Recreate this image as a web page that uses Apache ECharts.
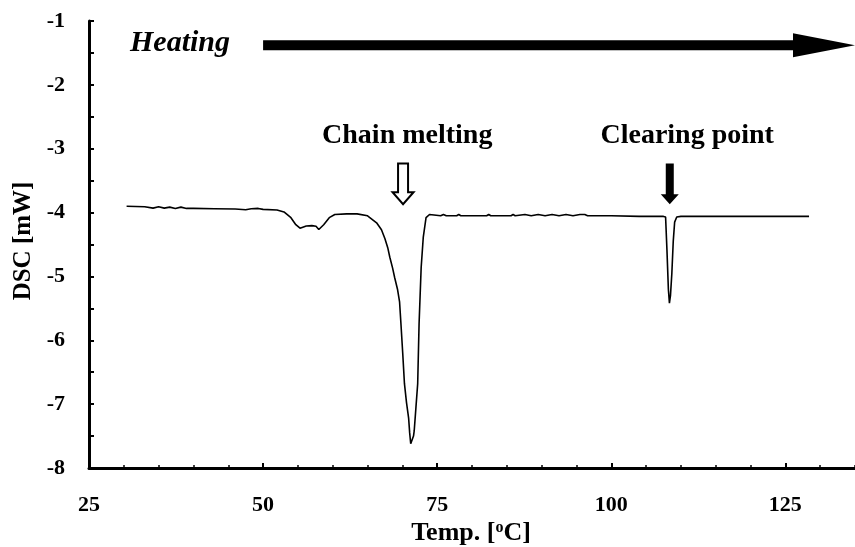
<!DOCTYPE html>
<html>
<head>
<meta charset="utf-8">
<script src="https://cdn.jsdelivr.net/npm/echarts@6/dist/echarts.min.js"></script>
<style>
  html, body { margin: 0; padding: 0; background: #fff; }
  #chart { width: 855px; height: 547px; }
</style>
</head>
<body>
<div id="chart"></div>
<script>
// DSC heating scan: temperature (°C) and heat flow (mW)
const temperature = [
  30.4, 33.0, 34.2, 35.0, 35.8, 36.6, 37.4, 38.2, 39.0, 40.0, 43.0, 46.0,
  47.5, 48.3, 49.3, 50.0, 52.0, 53.0, 54.0, 54.7, 55.3, 56.2, 57.0, 57.6,
  58.0, 58.7, 59.5, 60.3, 62.0, 63.5, 65.0, 66.3, 67.0, 67.5, 67.9, 68.2,
  68.6, 68.9, 69.3, 69.6, 69.8, 70.05, 70.3, 70.6, 70.9, 71.05, 71.2, 71.4,
  71.6, 71.7, 71.95, 72.2, 72.4, 72.55, 72.7, 73.0, 73.4, 73.9, 75.5, 75.9,
  76.3, 77.8, 78.1, 78.4, 82.1, 82.4, 82.7, 85.6, 85.9, 86.2, 87.6, 88.5,
  89.5, 90.5, 91.5, 92.5, 93.5, 94.5, 95.5, 96.2, 96.6, 100.0, 104.0, 107.5,
  107.8, 108.0, 108.2, 108.35, 108.5, 108.7, 108.9, 109.1, 109.4, 110.0, 115.0, 120.0,
  122.1, 122.3, 122.5, 125.0, 128.4
];
const dsc = [
  -3.90, -3.91, -3.93, -3.91, -3.93, -3.915, -3.935, -3.915, -3.935, -3.935, -3.94, -3.945,
  -3.955, -3.94, -3.935, -3.95, -3.96, -3.99, -4.08, -4.19, -4.245, -4.21, -4.205, -4.215,
  -4.265, -4.19, -4.08, -4.03, -4.02, -4.02, -4.05, -4.16, -4.27, -4.41, -4.55, -4.70,
  -4.87, -5.02, -5.20, -5.40, -5.75, -6.20, -6.68, -6.98, -7.22, -7.45, -7.62, -7.62,
  -7.50, -7.42, -7.05, -6.68, -5.74, -5.30, -4.86, -4.39, -4.08, -4.03, -4.05, -4.03,
  -4.05, -4.05, -4.03, -4.05, -4.05, -4.03, -4.05, -4.05, -4.03, -4.05, -4.03, -4.05,
  -4.03, -4.05, -4.03, -4.05, -4.03, -4.05, -4.03, -4.03, -4.05, -4.05, -4.06, -4.06,
  -4.07, -4.60, -5.20, -5.42, -5.30, -4.95, -4.45, -4.15, -4.07, -4.06, -4.06, -4.06,
  -4.06, -4.08, -4.06, -4.06, -4.06
];

// Axis ticks
const xTickLabels = [25, 50, 75, 100, 125];
const yTickLabels = [-8, -7, -6, -5, -4, -3, -2, -1];

const serif = '"Liberation Serif", "Times New Roman", Times, serif';
const labelStyle = { fontFamily: serif, fontWeight: 'bold', fontSize: 22, color: '#000' };

const xMin = xTickLabels[0];
const xStep = xTickLabels[1] - xTickLabels[0];
const yMin = yTickLabels[0];
const yMax = yTickLabels[yTickLabels.length - 1];

const chart = echarts.init(document.getElementById('chart'), null, { renderer: 'canvas' });

chart.setOption({
  animation: false,
  backgroundColor: '#fff',
  grid: { left: 89, top: 21, right: -8, bottom: 79, containLabel: false },
  xAxis: [
    {
      type: 'value', position: 'bottom', min: xMin, max: 135, interval: xStep,
      axisLine: { onZero: false, lineStyle: { color: '#000', width: 3 } },
      axisTick: { inside: true, length: 5, lineStyle: { color: '#000', width: 2 } },
      axisLabel: Object.assign({ margin: 26, showMaxLabel: false }, labelStyle),
      splitLine: { show: false }
    },
    {
      type: 'value', position: 'bottom', min: xMin, max: 135, interval: 5,
      axisLine: { show: false, onZero: false },
      axisTick: { inside: true, length: 3, lineStyle: { color: '#000', width: 1.5 } },
      axisLabel: { show: false },
      splitLine: { show: false }
    }
  ],
  yAxis: {
    type: 'value', min: yMin, max: yMax, interval: 1,
    axisLine: { onZero: false, lineStyle: { color: '#000', width: 3 } },
    axisTick: { inside: true, length: 5, lineStyle: { color: '#000', width: 2 } },
    minorTick: { show: true, splitNumber: 2, length: 5, lineStyle: { color: '#000', width: 2 } },
    axisLabel: Object.assign({ margin: 24 }, labelStyle),
    splitLine: { show: false }
  },
  series: [{
    type: 'line',
    xAxisIndex: 0,
    data: temperature.map((t, i) => [t, dsc[i]]),
    showSymbol: false,
    lineStyle: { color: '#000', width: 1.6 },
    z: 3
  }]
});

const px = (t, v) => chart.convertToPixel({ xAxisIndex: 0, yAxisIndex: 0 }, [t, v]);

// Heating direction arrow
const hStart = px(50, -1.38);
const hy = hStart[1];
const hx0 = hStart[0];
const hxEnd = chart.getWidth();
const hxHead = hxEnd - 62;

// Chain melting (hollow) arrow
const cm = px(70.1, -3.23);
const cmTip = px(70.1, -3.87);
// Clearing point (solid) arrow
const cp = px(108.4, -3.23);
const cpTip = px(108.4, -3.87);

function downArrow(cx, top, tip, shaftHalf, headHalf, headLen) {
  const hs = tip - headLen;
  return [
    [cx - shaftHalf, top], [cx + shaftHalf, top], [cx + shaftHalf, hs],
    [cx + headHalf, hs], [cx, tip], [cx - headHalf, hs], [cx - shaftHalf, hs]
  ];
}

const chainLabel = px(70.7, -2.8);
const clearLabel = px(110.9, -2.8);

chart.setOption({
  graphic: [
    {
      type: 'text', left: 130, top: hy - 17,
      style: { text: 'Heating', font: 'italic bold 30px ' + serif, fill: '#000' }
    },
    {
      type: 'polygon',
      shape: { points: [
        [hx0, hy - 5], [hxHead, hy - 5], [hxHead, hy - 12], [hxEnd, hy],
        [hxHead, hy + 12], [hxHead, hy + 5], [hx0, hy + 5]
      ] },
      style: { fill: '#000' }
    },
    {
      type: 'text', x: chainLabel[0], y: chainLabel[1],
      style: { text: 'Chain melting', font: 'bold 28px ' + serif, fill: '#000', align: 'center', verticalAlign: 'middle' }
    },
    {
      type: 'text', x: clearLabel[0], y: clearLabel[1],
      style: { text: 'Clearing point', font: 'bold 28px ' + serif, fill: '#000', align: 'center', verticalAlign: 'middle' }
    },
    {
      type: 'polygon',
      shape: { points: downArrow(cm[0], cm[1], cmTip[1], 5, 10.5, 12) },
      style: { fill: '#fff', stroke: '#000', lineWidth: 2 }
    },
    {
      type: 'polygon',
      shape: { points: downArrow(cp[0], cp[1], cpTip[1], 4, 9, 10) },
      style: { fill: '#000' }
    },
    {
      type: 'text', x: 24, y: 241, rotation: Math.PI / 2,
      style: { text: 'DSC [mW]', font: 'bold 25px ' + serif, fill: '#000', align: 'center', verticalAlign: 'middle' }
    },
    {
      type: 'text', x: 471, y: 533,
      style: {
        text: '{a|Temp. [}{s|o}{a|C]}',
        align: 'center', verticalAlign: 'middle',
        rich: {
          a: { fontFamily: serif, fontWeight: 'bold', fontSize: 26, fill: '#000', color: '#000' },
          s: { fontFamily: serif, fontWeight: 'bold', fontSize: 16, fill: '#000', color: '#000', verticalAlign: 'top', padding: [0, 0, 8, 0] }
        }
      }
    }
  ]
});
</script>
</body>
</html>
